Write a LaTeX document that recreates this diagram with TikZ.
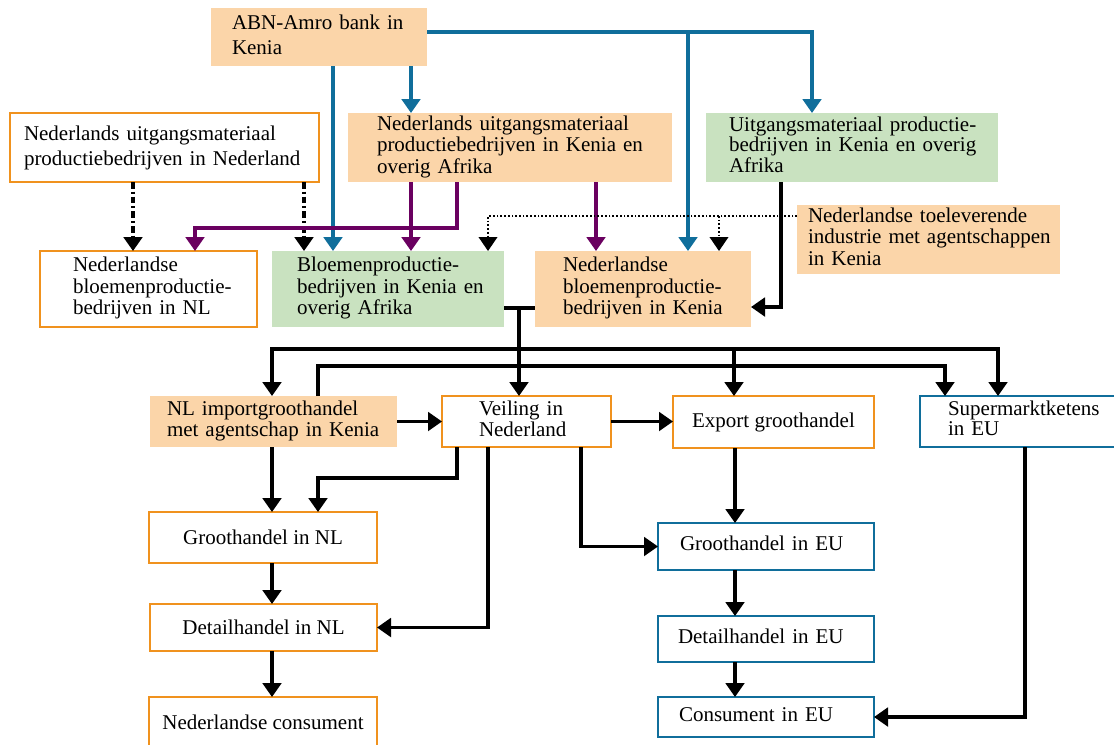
\documentclass[tikz,border=0pt]{standalone}
\usepackage{fontspec}
\setmainfont{Liberation Serif}
\usetikzlibrary{arrows.meta}
\definecolor{peach}{RGB}{251,213,169}
\definecolor{leaf}{RGB}{201,226,192}
\definecolor{orng}{RGB}{240,146,30}
\definecolor{sea}{RGB}{16,110,155}
\definecolor{plum}{RGB}{106,0,96}
\newcommand{\bxl}[1]{\begin{tabular}{@{}l@{}}#1\end{tabular}}
\begin{document}
\begin{tikzpicture}[x=0.75pt,y=-0.75pt,
  base/.style={rectangle, inner xsep=0pt, inner ysep=0pt, outer sep=0pt,
    font=\fontsize{15.75}{16.1}\selectfont, align=left},
  wide/.style={font=\fontsize{15.75}{18.75}\selectfont},
  tight/.style={font=\fontsize{15.75}{15}\selectfont},
  fpeach/.style={base, fill=peach},
  fgreen/.style={base, fill=leaf},
  oline/.style={base, draw=orng, line width=1.6pt, fill=white},
  bline/.style={base, draw=sea, line width=1.9pt, fill=white},
  tip/.style={-{Triangle[width=14pt,length=10.5pt]}},
  bl/.style={tip, draw=sea, line width=2.3pt},
  pu/.style={tip, draw=plum, line width=2.3pt},
  ka/.style={tip, draw=black, line width=2.3pt},
  kl/.style={draw=black, line width=2.3pt},
  dd/.style={tip, draw=black, line width=2.3pt,
    dash pattern=on 5pt off 2.2pt on 1.6pt off 2.2pt},
  dt/.style={tip, draw=black, line width=1.3pt,
    dash pattern=on 1.3pt off 1.5pt}
]
\useasboundingbox (0,0) rectangle (1114,744);
\clip (0,0) rectangle (1114,744);

% ---------- boxes ----------
\node[fpeach, wide, minimum width=162pt, minimum height=43.5pt, text width=130.5pt] (abn) at (319,37)
  {\bxl{ABN-Amro bank in\\Kenia}};
\node[oline, wide, minimum width=231.75pt, minimum height=51.75pt, text width=210.75pt] (nlnl) at (164.5,147.5)
  {\bxl{Nederlands uitgangsmateriaal\\productiebedrijven in Nederland}};
\node[fpeach, minimum width=243pt, minimum height=51.75pt, text width=199.5pt] (nlke) at (510,147.5)
  {\bxl{Nederlands uitgangsmateriaal\\productiebedrijven in Kenia en\\overig Afrika}};
\node[fgreen, tight, minimum width=219pt, minimum height=51.75pt, text width=184.5pt] (uike) at (852,147.5)
  {\bxl{Uitgangsmateriaal productie-\\bedrijven in Kenia en overig\\Afrika}};
\node[fpeach, minimum width=197.25pt, minimum height=51.75pt, text width=180.75pt] (toel) at (928.5,239.5)
  {\bxl{Nederlandse toeleverende\\industrie met agentschappen\\in Kenia}};
\node[oline, minimum width=162.75pt, minimum height=57pt, text width=113.25pt] (bnl) at (148.5,289)
  {\bxl{Nederlandse\\bloemenproductie-\\bedrijven in NL}};
\node[fgreen, minimum width=174pt, minimum height=57pt, text width=136.5pt] (bke) at (388,289)
  {\bxl{Bloemenproductie-\\bedrijven in Kenia en\\overig Afrika}};
\node[fpeach, minimum width=162pt, minimum height=57pt, text width=120pt] (nbke) at (643,289)
  {\bxl{Nederlandse\\bloemenproductie-\\bedrijven in Kenia}};
\node[fpeach, tight, minimum width=185.25pt, minimum height=38.25pt, text width=159.75pt] (imp) at (273.5,421.5)
  {\bxl{NL importgroothandel\\met agentschap in Kenia}};
\node[oline, minimum width=126.75pt, minimum height=38.25pt, text width=71.25pt] (veil) at (526.5,421.5)
  {\bxl{Veiling in\\Nederland}};
\node[oline, align=center, minimum width=150.75pt, minimum height=39pt] (exp) at (773.5,422)
  {Export groothandel};
\node[bline, tight, minimum width=153.75pt, minimum height=38.25pt, text width=111.75pt] (sup) at (1022.5,421.5)
  {\bxl{Supermarktketens\\in EU}};
\node[oline, align=center, minimum width=171pt, minimum height=38.25pt] (gnl) at (263,537.5)
  {Groothandel in NL};
\node[oline, align=center, minimum width=170.25pt, minimum height=35.25pt] (dnl) at (263.5,627.5)
  {Detailhandel in NL};
\node[oline, align=center, minimum width=171pt, minimum height=37.5pt] (cnl) at (263,722)
  {Nederlandse consument};
\node[bline, minimum width=162pt, minimum height=35.25pt, text width=129pt] (geu) at (766,546.5)
  {\bxl{Groothandel in EU}};
\node[bline, minimum width=162pt, minimum height=34.5pt, text width=132pt] (deu) at (766,639)
  {\bxl{Detailhandel in EU}};
\node[bline, minimum width=162pt, minimum height=30pt, text width=130.5pt] (ceu) at (766,717)
  {\bxl{Consument in EU}};

% ---------- helper coordinates ----------
\coordinate (bA) at (812,32);
\coordinate (bB) at (688,32);
\coordinate (c333) at (333,0);
\coordinate (c411) at (411,0);
\coordinate (c133) at (133,0);
\coordinate (c304) at (304,0);
\coordinate (pA) at (457,228);
\coordinate (pB) at (195,228);
\coordinate (c596) at (596,0);
\coordinate (dA) at (488,216);
\coordinate (dB) at (719,216);
\coordinate (kA) at (781,307);
\coordinate (kB) at (519,308);
\coordinate (kC) at (519,349);
\coordinate (kD) at (734,349);
\coordinate (kE) at (318,366);
\coordinate (kF) at (457,478);
\coordinate (c272) at (272,0);
\coordinate (c998) at (998,0);
\coordinate (c945) at (945,0);
\coordinate (c581) at (581,0);
\coordinate (c735) at (735,0);
\coordinate (c1025) at (1025,0);

% ---------- blue (bank) ----------
\draw[bl] (abn.east |- bA) -- (bA) -- (uike.north -| bA);
\draw[bl] (bB) -- (nbke.north -| bB);
\draw[bl] (abn.south -| c333) -- (bke.north -| c333);
\draw[bl] (abn.south -| c411) -- (nlke.north -| c411);

% ---------- dash-dot ----------
\draw[dd] (nlnl.south -| c133) -- (bnl.north -| c133);
\draw[dd] (nlnl.south -| c304) -- (bke.north -| c304);

% ---------- purple ----------
\draw[pu] (nlke.south -| pA) -- (pA) -- (pB) -- (bnl.north -| pB);
\draw[pu] (nlke.south -| c411) -- (bke.north -| c411);
\draw[pu] (nlke.south -| c596) -- (nbke.north -| c596);

% ---------- dotted ----------
\draw[dt] (toel.west |- dA) -- (dA) -- (bke.north -| dA);
\draw[dt] (dB) -- (nbke.north -| dB);

% ---------- black ----------
\draw[ka] (uike.south -| kA) -- (kA) -- (nbke.east |- kA);
\draw[kl] (bke.east |- kB) -- (nbke.west |- kB);
\draw[ka] (kB) -- (veil.north -| kB);
\draw[ka] (kC) -| (imp.north -| c272);
\draw[ka] (kC) -| (sup.north -| c998);
\draw[ka] (kD) -- (exp.north -| kD);
\draw[ka] (imp.north -| kE) -- (kE) -| (sup.north -| c945);
\draw[ka] (imp.east) -- (veil.west);
\draw[ka] (veil.east) -- (exp.west |- veil.east);
\draw[ka] (imp.south -| c272) -- (gnl.north -| c272);
\draw[ka] (veil.south -| kF) -- (kF) -| (gnl.north -| kE);
\draw[ka] (veil.south -| dA) |- (dnl.east);
\draw[ka] (veil.south -| c581) |- (geu.west);
\draw[ka] (exp.south -| c735) -- (geu.north -| c735);
\draw[ka] (gnl.south -| c272) -- (dnl.north -| c272);
\draw[ka] (dnl.south -| c272) -- (cnl.north -| c272);
\draw[ka] (geu.south -| c735) -- (deu.north -| c735);
\draw[ka] (deu.south -| c735) -- (ceu.north -| c735);
\draw[ka] (sup.south -| c1025) |- (ceu.east);
\end{tikzpicture}
\end{document}
